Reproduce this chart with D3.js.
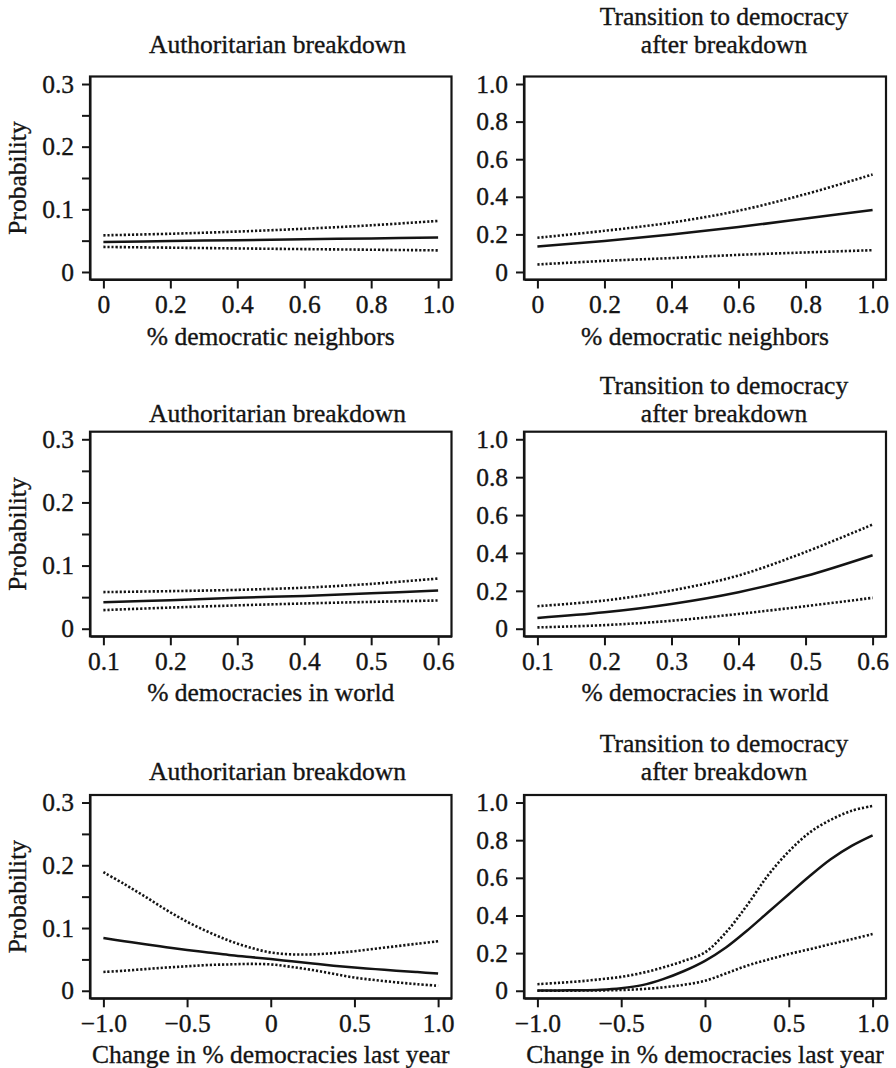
<!DOCTYPE html>
<html><head><meta charset="utf-8">
<script src="https://cdn.jsdelivr.net/npm/d3@7"></script>
<style>
html,body{margin:0;padding:0;background:#fff;}
svg{display:block;}
</style></head><body>
<svg id="chart" width="896" height="1068"></svg>
<script>
// ---------------- DATA ----------------
const titleLeft = ["Authoritarian breakdown"];
const titleRight = ["Transition to democracy", "after breakdown"];
const yAxisLabel = "Probability";
const xAxisLabels = ["% democratic neighbors", "% democracies in world", "Change in % democracies last year"];

const yTicksLeft = [0, 0.05, 0.1, 0.15, 0.2, 0.25, 0.3];
const yTickLabelsLeft = ["0", "", "0.1", "", "0.2", "", "0.3"];
const yTicksRight = [0, 0.2, 0.4, 0.6, 0.8, 1.0];
const yTickLabelsRight = ["0", "0.2", "0.4", "0.6", "0.8", "1.0"];

const xTicksNeighbors = [0, 0.2, 0.4, 0.6, 0.8, 1.0];
const xTickLabelsNeighbors = ["0", "0.2", "0.4", "0.6", "0.8", "1.0"];
const xTicksWorld = [0.1, 0.2, 0.3, 0.4, 0.5, 0.6];
const xTickLabelsWorld = ["0.1", "0.2", "0.3", "0.4", "0.5", "0.6"];
const xTicksChange = [-1, -0.5, 0, 0.5, 1];
const xTickLabelsChange = ["\u22121.0", "\u22120.5", "0", "0.5", "1.0"];

// Row 1: % democratic neighbors
const neighborsX = [0, 0.2, 0.4, 0.6, 0.8, 1.0];
const breakdownNeighborsMean  = [0.048, 0.0494, 0.0508, 0.0522, 0.0536, 0.055];
const breakdownNeighborsUpper = [0.0585, 0.061, 0.0645, 0.069, 0.0745, 0.0815];
const breakdownNeighborsLower = [0.040, 0.0388, 0.0376, 0.0365, 0.0355, 0.0345];
const transitionNeighborsMean  = [0.135, 0.165, 0.200, 0.239, 0.284, 0.330];
const transitionNeighborsUpper = [0.182, 0.219, 0.263, 0.326, 0.414, 0.519];
const transitionNeighborsLower = [0.040, 0.059, 0.074, 0.091, 0.104, 0.116];

// Row 2: % democracies in world
const worldX = [0.1, 0.2, 0.3, 0.4, 0.5, 0.6];
const breakdownWorldMean  = [0.042, 0.045, 0.049, 0.052, 0.056, 0.0605];
const breakdownWorldUpper = [0.058, 0.0595, 0.0615, 0.065, 0.071, 0.0795];
const breakdownWorldLower = [0.0295, 0.0335, 0.037, 0.040, 0.0425, 0.0447];
const transitionWorldMean  = [0.057, 0.087, 0.131, 0.193, 0.278, 0.388];
const transitionWorldUpper = [0.119, 0.149, 0.202, 0.281, 0.405, 0.550];
const transitionWorldLower = [0.007, 0.019, 0.042, 0.078, 0.119, 0.163];

// Row 3: change in % democracies last year
const changeX = [-1, -0.875, -0.75, -0.625, -0.5, -0.375, -0.25, -0.125, 0, 0.125, 0.25, 0.375, 0.5, 0.625, 0.75, 0.875, 1];
const breakdownChangeMean  = [0.084, 0.079, 0.074, 0.0695, 0.065, 0.061, 0.057, 0.0538, 0.0505, 0.047, 0.0435, 0.040, 0.037, 0.0345, 0.032, 0.0298, 0.0276];
const breakdownChangeUpper = [0.189, 0.170, 0.150, 0.129, 0.110, 0.094, 0.080, 0.069, 0.061, 0.058, 0.058, 0.060, 0.063, 0.067, 0.071, 0.075, 0.079];
const breakdownChangeLower = [0.030, 0.032, 0.0345, 0.037, 0.039, 0.041, 0.042, 0.0428, 0.042, 0.038, 0.033, 0.027, 0.021, 0.017, 0.0135, 0.0105, 0.008];
const transitionChangeMean  = [0.002, 0.002, 0.003, 0.006, 0.014, 0.030, 0.062, 0.105, 0.159, 0.230, 0.319, 0.416, 0.513, 0.610, 0.699, 0.770, 0.826];
const transitionChangeUpper = [0.035, 0.042, 0.050, 0.061, 0.074, 0.095, 0.124, 0.159, 0.204, 0.310, 0.453, 0.612, 0.740, 0.841, 0.908, 0.956, 0.982];
const transitionChangeLower = [0.000, 0.000, 0.001, 0.002, 0.004, 0.009, 0.018, 0.032, 0.053, 0.092, 0.133, 0.165, 0.195, 0.221, 0.248, 0.274, 0.301];

// ---------------- LAYOUT ----------------
const FONT = "Liberation Serif, Times New Roman, serif";
const FS = 25.5;
const INK = "#141414";
const TEXT_STROKE = 0.35;
const cols = [
  { left: 90, right: 451.5, titleCx: 277.5, yDomain: [0, 0.3], yTicks: yTicksLeft, yLabels: yTickLabelsLeft, title: titleLeft, showY: true },
  { left: 524, right: 886, titleCx: 724, yDomain: [0, 1], yTicks: yTicksRight, yLabels: yTickLabelsRight, title: titleRight, showY: false }
];
const rows = [
  { top: 76.5, bottom: 279.5, titleBase: 53, xDomain: [0, 1], xTicks: xTicksNeighbors, xLabels: xTickLabelsNeighbors, xLabel: xAxisLabels[0], x: neighborsX,
    series: [[breakdownNeighborsMean, breakdownNeighborsUpper, breakdownNeighborsLower], [transitionNeighborsMean, transitionNeighborsUpper, transitionNeighborsLower]] },
  { top: 431.7, bottom: 636.3, titleBase: 421.7, xDomain: [0.1, 0.6], xTicks: xTicksWorld, xLabels: xTickLabelsWorld, xLabel: xAxisLabels[1], x: worldX,
    series: [[breakdownWorldMean, breakdownWorldUpper, breakdownWorldLower], [transitionWorldMean, transitionWorldUpper, transitionWorldLower]] },
  { top: 795, bottom: 998.3, titleBase: 780, xDomain: [-1, 1], xTicks: xTicksChange, xLabels: xTickLabelsChange, xLabel: xAxisLabels[2], x: changeX,
    series: [[breakdownChangeMean, breakdownChangeUpper, breakdownChangeLower], [transitionChangeMean, transitionChangeUpper, transitionChangeLower]] }
];

const pad = (d) => { const r = d[1] - d[0]; return [d[0] - 0.04 * r, d[1] + 0.04 * r]; };
const styleText = (sel) => sel.attr("font-family", FONT).attr("font-size", FS)
  .attr("fill", INK).attr("stroke", INK).attr("stroke-width", TEXT_STROKE);

const svg = d3.select("#chart");
svg.append("rect").attr("width", 896).attr("height", 1068).attr("fill", "#fff");

rows.forEach((row) => {
  cols.forEach((col, ci) => {
    const x = d3.scaleLinear().domain(pad(row.xDomain)).range([col.left, col.right]);
    const y = d3.scaleLinear().domain(pad(col.yDomain)).range([row.bottom, row.top]);
    const g = svg.append("g");

    // title
    const nT = col.title.length;
    col.title.forEach((t, i) => {
      g.append("text").attr("x", col.titleCx).attr("y", row.titleBase - (nT - 1 - i) * 28)
        .attr("text-anchor", "middle").call(styleText).text(t);
    });

    // y axis
    const ya = g.append("g").attr("transform", `translate(${col.left},0)`)
      .call(d3.axisLeft(y).tickValues(col.yTicks).tickSize(8).tickSizeOuter(0).tickPadding(8)
        .tickFormat((d, i) => col.yLabels[i]));
    ya.attr("font-family", FONT).attr("font-size", FS);
    ya.selectAll("line").attr("stroke", INK).attr("stroke-width", 2);
    ya.select(".domain").attr("stroke", INK).attr("stroke-width", 2);
    ya.selectAll("text").call(styleText);

    // x axis
    const xa = g.append("g").attr("transform", `translate(0,${row.bottom})`)
      .call(d3.axisBottom(x).tickValues(row.xTicks).tickSize(9).tickSizeOuter(0)
        .tickFormat((d, i) => row.xLabels[i]));
    xa.attr("font-family", FONT).attr("font-size", FS);
    xa.selectAll("line").attr("stroke", INK).attr("stroke-width", 2);
    xa.select(".domain").attr("stroke", INK).attr("stroke-width", 2);
    xa.selectAll("text").call(styleText).attr("y", 33.5).attr("dy", null);

    // x label
    g.append("text").attr("x", (col.left + col.right) / 2).attr("y", row.bottom + 65)
      .attr("text-anchor", "middle").call(styleText).text(row.xLabel);

    // y label
    if (col.showY) {
      g.append("text").attr("transform", `translate(26,${(row.top + row.bottom) / 2}) rotate(-90)`)
        .attr("text-anchor", "middle").call(styleText).text(yAxisLabel);
    }

    // lines
    const [mean, upper, lower] = row.series[ci];
    const line = d3.line().x((d) => x(d[0])).y((d) => y(d[1])).curve(d3.curveCatmullRom.alpha(0.5));
    const toPts = (arr) => row.x.map((xv, i) => [xv, arr[i]]);
    [upper, lower].forEach((arr) => {
      g.append("path").attr("d", line(toPts(arr))).attr("fill", "none")
        .attr("stroke", INK).attr("stroke-width", 2.6).attr("stroke-dasharray", "2.2,1.9");
    });
    g.append("path").attr("d", line(toPts(mean))).attr("fill", "none")
      .attr("stroke", INK).attr("stroke-width", 2.5);

    // box
    g.append("rect").attr("x", col.left).attr("y", row.top)
      .attr("width", col.right - col.left).attr("height", row.bottom - row.top)
      .attr("fill", "none").attr("stroke", INK).attr("stroke-width", 2.2);
  });
});
</script>
</body></html>
